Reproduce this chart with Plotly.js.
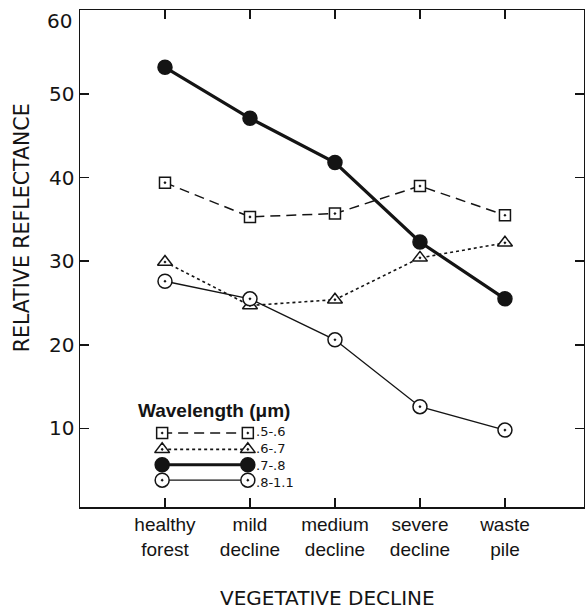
<!DOCTYPE html>
<html><head><meta charset="utf-8">
<script src="https://cdn.plot.ly/plotly-3.0.1.min.js"></script>
<style>html,body{margin:0;padding:0;background:#fff;}#chart{width:585px;height:609px;}</style>
</head><body><div id="chart"></div>
<script>
// ---- data ----
const categories = ['healthy forest','mild decline','medium decline','severe decline','waste pile'];
const tickLabels = ['healthy<br>forest','mild<br>decline','medium<br>decline','severe<br>decline','waste<br>pile'];
const seriesNames = ['.5-.6','.6-.7','.7-.8','.8-1.1'];
const band_5_6  = [39.4, 35.3, 35.7, 39.0, 35.5];
const band_6_7  = [29.9, 24.7, 25.4, 30.4, 32.2];
const band_7_8  = [53.2, 47.1, 41.8, 32.3, 25.5];
const band_8_11 = [27.6, 25.5, 20.6, 12.6,  9.8];
const yTicks = [10, 20, 30, 40, 50, 60];
const legendTitle = 'Wavelength (μm)';
const xTitle = 'VEGETATIVE DECLINE';
const yTitle = 'RELATIVE REFLECTANCE';

const seriesValues = [band_5_6, band_6_7, band_7_8, band_8_11];
const ink = '#141414';
const styles = [
  {dash:'10px,6px', width:1.5, symbol:'square-dot',      size:11, fill:'#fff'},
  {dash:'3px,3px',  width:1.6, symbol:'triangle-up-dot', size:13, fill:'#fff'},
  {dash:'solid',    width:3.2, symbol:'circle',          size:14, fill:ink},
  {dash:'solid',    width:1.4, symbol:'circle-dot',      size:14, fill:'#fff'}
];

const traces = [];
seriesValues.forEach((vals, i) => {
  const s = styles[i];
  traces.push({
    type:'scatter', mode:'lines+markers', name:seriesNames[i],
    x:categories, y:vals,
    line:{color:ink, width:s.width, dash:s.dash},
    marker:{symbol:s.symbol, size:s.size, color:s.fill, line:{color:ink, width:1.5}},
    showlegend:false, hoverinfo:'x+y'
  });
});

// custom legend (markers at both ends) on an overlay unit axis
const legX0 = 0.163, legX1 = 0.333;
const legRows = [0.149, 0.116, 0.085, 0.054];
const annotations = [];
seriesNames.forEach((nm, i) => {
  const s = styles[i];
  traces.push({
    type:'scatter', mode:'lines+markers', xaxis:'x2', yaxis:'y2',
    x:[legX0, legX1], y:[legRows[i], legRows[i]],
    line:{color:ink, width:s.width, dash:s.dash},
    marker:{symbol:s.symbol, size:s.size, color:s.fill, line:{color:ink, width:1.5}},
    showlegend:false, hoverinfo:'skip'
  });
});
// legend labels as one multi-line text block
annotations.push({
  xref:'paper', yref:'paper', x:legX1 + 0.012, y:(legRows[0] + legRows[3]) / 2,
  xanchor:'left', yanchor:'middle', align:'left', showarrow:false,
  text:seriesNames.join('<br>'),
  font:{family:'DejaVu Sans', size:13, color:ink}
});
annotations.push({
  xref:'paper', yref:'paper', x:0.265, y:0.195, xanchor:'center', yanchor:'middle',
  showarrow:false, text:'<b>'+legendTitle+'</b>',
  font:{family:'Liberation Sans', size:19, color:ink}
});
annotations.push({
  xref:'paper', yref:'paper', x:0.492, y:-0.183, xanchor:'center', yanchor:'middle',
  showarrow:false, text:xTitle,
  font:{family:'DejaVu Sans', size:20, color:ink}
});
annotations.push({
  xref:'paper', yref:'paper', x:-0.115, y:0.561, xanchor:'center', yanchor:'middle',
  showarrow:false, text:yTitle, textangle:-90,
  font:{family:'DejaVu Sans', size:20.5, color:ink}
});
// top tick label sits just below the frame corner, as in the original
const topTick = yTicks[yTicks.length - 1];
annotations.push({
  xref:'paper', yref:'paper', x:-0.012, y:0.978, xanchor:'right', yanchor:'middle',
  showarrow:false, text:String(topTick),
  font:{family:'DejaVu Sans', size:20, color:ink}
});
const yTickText = yTicks.map(v => v === topTick ? '' : String(v));

const axisCommon = {
  showline:true, linecolor:ink, linewidth:1.5, mirror:'ticks',
  ticks:'inside', ticklen:9, tickwidth:1.5, tickcolor:ink,
  showgrid:false, zeroline:false, fixedrange:true
};

const layout = {
  width:585, height:609,
  margin:{l:80, r:1, t:10, b:102},
  paper_bgcolor:'#fff', plot_bgcolor:'#fff',
  showlegend:false,
  xaxis:Object.assign({}, axisCommon, {
    type:'category', categoryorder:'array', categoryarray:categories,
    range:[-1, 4.93], tickmode:'array', tickvals:categories, ticktext:tickLabels,
    tickfont:{family:'Liberation Sans', size:19, color:ink}
  }),
  yaxis:Object.assign({}, axisCommon, {
    range:[0.6, 60.05], tickmode:'array', tickvals:yTicks, ticktext:yTickText,
    tickfont:{family:'DejaVu Sans', size:20, color:ink}
  }),
  xaxis2:{overlaying:'x', range:[0,1], visible:false, fixedrange:true},
  yaxis2:{overlaying:'y', range:[0,1], visible:false, fixedrange:true},
  annotations:annotations
};

Plotly.newPlot('chart', traces, layout, {displayModeBar:false, staticPlot:true});
</script>
</body></html>
